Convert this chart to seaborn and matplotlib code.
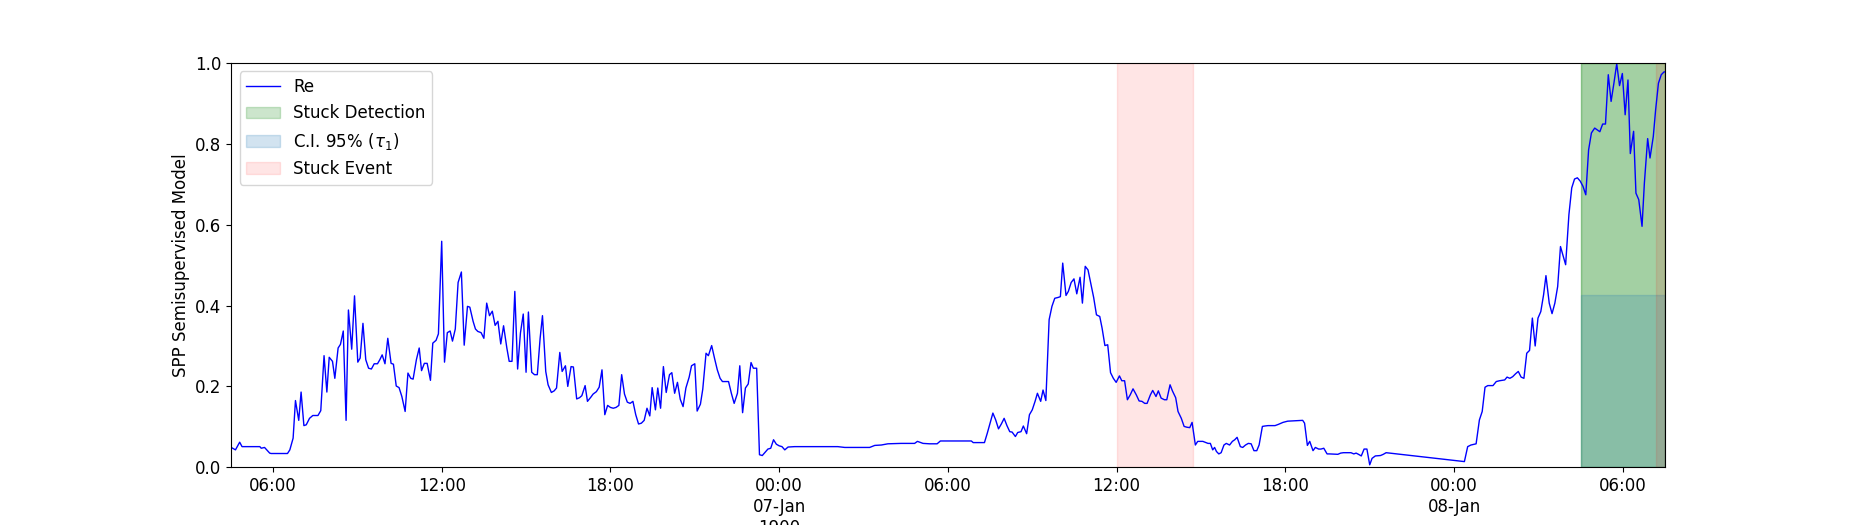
import numpy as np
import pandas as pd
import seaborn as sns
import matplotlib
matplotlib.use("Agg")
import matplotlib.pyplot as plt
import matplotlib.dates as mdates

plt.rcParams['font.size'] = 12

# minutes since 1900-01-06 00:00 and model output
minutes = [271, 280, 289, 294, 332, 335, 342, 353, 356, 391, 396, 403, 408, 415, 420,
           426, 431, 438, 445, 456, 462, 469, 475, 480, 487, 492, 499, 504, 510, 516,
           521, 528, 534, 541, 546, 552, 558, 564, 570, 576, 583, 588, 593, 599, 605,
           612, 617, 623, 629, 635, 642, 648, 654, 659, 666, 672, 677, 683, 689, 696,
           701, 708, 713, 720, 726, 732, 738, 743, 749, 755, 762, 768, 775, 780, 787,
           792, 797, 804, 810, 816, 822, 828, 834, 840, 846, 852, 859, 864, 870, 876,
           882, 888, 894, 900, 905, 912, 918, 924, 930, 935, 942, 947, 954, 960, 965,
           972, 977, 984, 989, 996, 1001, 1008, 1014, 1019, 1026, 1031, 1038, 1043, 1050, 1056,
           1062, 1068, 1074, 1080, 1086, 1092, 1098, 1104, 1110, 1116, 1122, 1128, 1134, 1140, 1146,
           1152, 1158, 1164, 1169, 1176, 1181, 1187, 1193, 1199, 1206, 1211, 1217, 1223, 1229, 1235,
           1241, 1248, 1253, 1260, 1265, 1272, 1277, 1284, 1289, 1296,
           1302, 1308, 1314, 1319, 1327, 1332, 1338, 1344, 1351, 1356, 1362, 1368, 1374, 1380, 1385,
           1392, 1398, 1404, 1410, 1416, 1422, 1428, 1434, 1440, 1446, 1452, 1459, 1473, 1501, 1537,
           1565, 1580, 1608, 1633, 1644, 1658, 1672, 1700, 1729, 1735, 1747, 1761, 1777, 1784, 1811,
           1850, 1854, 1878, 1884, 1890, 1896, 1902, 1908, 1914, 1920, 1926, 1932, 1937, 1944, 1949,
           1956, 1961, 1968, 1974, 1980, 1986, 1991, 1998, 2003, 2009, 2016, 2022, 2028, 2035, 2040,
           2045, 2052, 2057, 2063, 2069, 2075, 2082, 2087, 2093, 2099, 2104, 2111, 2117, 2124, 2129,
           2135, 2141, 2147, 2153, 2159, 2166, 2171, 2177, 2183, 2189, 2195, 2202, 2208, 2214, 2220,
           2225, 2232, 2237, 2244, 2249, 2255, 2262, 2267, 2274, 2279, 2286, 2291, 2298, 2304, 2310,
           2316, 2321,
           2328, 2333, 2344, 2355, 2360, 2365, 2369, 2373, 2378, 2383, 2389, 2394, 2401, 2407, 2412,
           2417, 2424, 2429, 2435, 2441, 2447, 2453, 2459, 2464, 2471, 2476, 2483, 2498, 2505, 2515,
           2525, 2540, 2557, 2561, 2567, 2572, 2579, 2584, 2591, 2596, 2602, 2609, 2614, 2632, 2638,
           2644, 2660, 2666, 2671, 2676, 2682, 2688, 2694, 2700, 2705, 2712, 2723, 2729, 2735,
           2902, 2909, 2916, 2927, 2934, 2940, 2946, 2952, 2963, 2970, 2977, 2988, 2993, 2999, 3005,
           3011, 3017, 3023, 3029, 3035, 3041, 3047, 3053, 3059, 3065, 3071, 3076, 3083, 3089, 3095,
           3101, 3107, 3113, 3118, 3125, 3131, 3137, 3143, 3149, 3155, 3161, 3167, 3173, 3180, 3185,
           3191, 3197, 3203, 3209, 3215, 3221, 3227, 3233, 3239, 3245, 3251, 3256, 3263, 3268, 3274,
           3281, 3286, 3293, 3298, 3305, 3310, 3316, 3322, 3328, 3330]

values = [0.049, 0.043, 0.062, 0.051, 0.051, 0.047, 0.049, 0.035, 0.034, 0.034, 0.043, 0.072, 0.165, 0.116, 0.186,
          0.103, 0.105, 0.121, 0.128, 0.128, 0.140, 0.276, 0.186, 0.272, 0.262, 0.220, 0.295, 0.304, 0.337, 0.116,
          0.389, 0.292, 0.424, 0.260, 0.270, 0.356, 0.266, 0.245, 0.243, 0.256, 0.256, 0.266, 0.278, 0.256, 0.319,
          0.257, 0.255, 0.201, 0.197, 0.175, 0.138, 0.233, 0.220, 0.218, 0.266, 0.295, 0.239, 0.257, 0.257, 0.215,
          0.307, 0.314, 0.330, 0.559, 0.260, 0.333, 0.337, 0.312, 0.342, 0.457, 0.483, 0.302, 0.398, 0.396, 0.361,
          0.342, 0.336, 0.333, 0.319, 0.406, 0.375, 0.386, 0.351, 0.361, 0.305, 0.350, 0.295, 0.262, 0.262, 0.435,
          0.243, 0.332, 0.379, 0.235, 0.384, 0.235, 0.229, 0.229, 0.319, 0.375, 0.237, 0.204, 0.185, 0.189, 0.196,
          0.284, 0.237, 0.251, 0.200, 0.249, 0.248, 0.169, 0.172, 0.177, 0.202, 0.163, 0.173, 0.181, 0.187, 0.198,
          0.241, 0.130, 0.153, 0.148, 0.146, 0.148, 0.153, 0.229, 0.181, 0.161, 0.158, 0.163, 0.130, 0.107, 0.109,
          0.116, 0.146, 0.127, 0.197, 0.142, 0.196, 0.146, 0.249, 0.185, 0.229, 0.234, 0.183, 0.210, 0.168, 0.150,
          0.196, 0.223, 0.251, 0.256, 0.139, 0.156, 0.193, 0.282, 0.276, 0.301,
          0.270, 0.241, 0.220, 0.212, 0.212, 0.212, 0.183, 0.158, 0.183, 0.251, 0.135, 0.196, 0.206, 0.259, 0.245,
          0.245, 0.031, 0.029, 0.037, 0.045, 0.047, 0.068, 0.057, 0.053, 0.051, 0.043, 0.050, 0.051, 0.051, 0.051,
          0.051, 0.049, 0.049, 0.049, 0.054, 0.055, 0.058, 0.059, 0.059, 0.064, 0.059, 0.058, 0.058, 0.065, 0.065,
          0.065, 0.061, 0.061, 0.084, 0.109, 0.134, 0.117, 0.095, 0.107, 0.121, 0.103, 0.088, 0.087, 0.076, 0.086,
          0.088, 0.102, 0.083, 0.130, 0.142, 0.163, 0.183, 0.163, 0.191, 0.165, 0.365, 0.398, 0.418, 0.420, 0.422,
          0.505, 0.425, 0.435, 0.457, 0.466, 0.429, 0.470, 0.406, 0.497, 0.488, 0.460, 0.420, 0.377, 0.373, 0.344,
          0.301, 0.303, 0.234, 0.220, 0.210, 0.226, 0.214, 0.214, 0.167, 0.179, 0.194, 0.179, 0.164, 0.163, 0.158,
          0.158, 0.179, 0.190, 0.175, 0.189, 0.171, 0.167, 0.167, 0.204, 0.189, 0.172, 0.138, 0.121, 0.101, 0.099,
          0.098, 0.111,
          0.055, 0.064, 0.064, 0.059, 0.059, 0.043, 0.049, 0.039, 0.033, 0.036, 0.055, 0.059, 0.055, 0.064, 0.068,
          0.074, 0.051, 0.049, 0.055, 0.059, 0.058, 0.041, 0.041, 0.055, 0.101, 0.102, 0.103, 0.103, 0.106, 0.111,
          0.114, 0.115, 0.116, 0.109, 0.054, 0.064, 0.041, 0.049, 0.045, 0.045, 0.047, 0.033, 0.033, 0.032, 0.035,
          0.036, 0.036, 0.033, 0.035, 0.032, 0.028, 0.045, 0.045, 0.006, 0.022, 0.028, 0.029, 0.032, 0.036,
          0.014, 0.051, 0.055, 0.058, 0.117, 0.138, 0.198, 0.202, 0.202, 0.212, 0.214, 0.216, 0.223, 0.220, 0.224,
          0.231, 0.237, 0.223, 0.220, 0.282, 0.289, 0.369, 0.300, 0.369, 0.385, 0.427, 0.474, 0.406, 0.380, 0.406,
          0.447, 0.546, 0.521, 0.501, 0.625, 0.691, 0.713, 0.716, 0.708, 0.695, 0.674, 0.785, 0.827, 0.839, 0.835,
          0.830, 0.849, 0.849, 0.971, 0.905, 0.950, 0.998, 0.944, 0.974, 0.872, 0.958, 0.776, 0.831, 0.678, 0.662,
          0.596, 0.703, 0.813, 0.765, 0.818, 0.884, 0.950, 0.971, 0.978, 0.978]

# shaded windows
detection = ('1900-01-08 04:30', '1900-01-08 07:30')
ci_level = 0.425
stuck_events = [('1900-01-07 12:00', '1900-01-07 14:42'),
                ('1900-01-08 07:10', '1900-01-08 07:30')]

tick_times = ['1900-01-06 06:00', '1900-01-06 12:00', '1900-01-06 18:00', '1900-01-07 00:00',
              '1900-01-07 06:00', '1900-01-07 12:00', '1900-01-07 18:00', '1900-01-08 00:00',
              '1900-01-08 06:00']
tick_labels = ['06:00', '12:00', '18:00', '00:00\n07-Jan\n1900', '06:00', '12:00', '18:00',
               '00:00\n08-Jan', '06:00']

start = pd.Timestamp('1900-01-06')
df = pd.DataFrame({'time': start + pd.to_timedelta(minutes, unit='min'), 'Re': values})

fig, ax = plt.subplots(figsize=(18.5, 5.25), dpi=100)
sns.lineplot(data=df, x='time', y='Re', color='blue', linewidth=1, label='Re', ax=ax)

d0, d1 = pd.Timestamp(detection[0]), pd.Timestamp(detection[1])
# detection windows overlap, so the area is shaded twice
ax.axvspan(d0, d1, color='green', alpha=0.2, label='Stuck Detection')
ax.axvspan(d0, d1, color='green', alpha=0.2)
ax.axvspan(d0, d1, ymin=0, ymax=ci_level, color='C0', alpha=0.2, label=r'C.I. 95% ($\tau_1$)')
for i, (s, e) in enumerate(stuck_events):
    ax.axvspan(pd.Timestamp(s), pd.Timestamp(e), color='red', alpha=0.1,
               label='Stuck Event' if i == 0 else None)

ax.set_xlim(df.time.min(), df.time.max())
ax.set_ylim(0, 1)
ax.set_xticks(pd.to_datetime(tick_times))
ax.set_xticklabels(tick_labels)
ax.set_xlabel('')
ax.set_ylabel('SPP Semisupervised Model')
ax.legend(loc='upper left')

fig.savefig('out.png')
